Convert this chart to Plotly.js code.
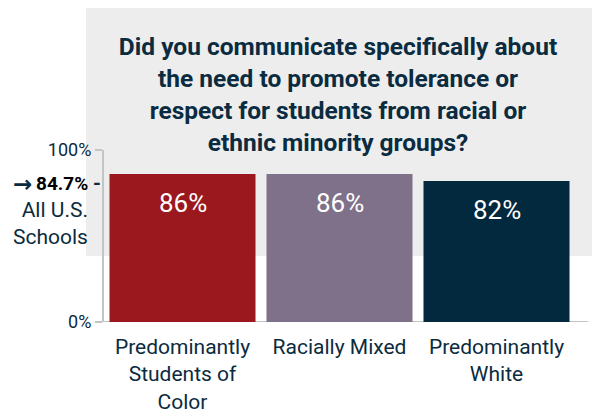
<!DOCTYPE html>
<html>
<head>
<meta charset="utf-8">
<script src="https://cdn.plot.ly/plotly-3.0.1.min.js"></script>
<style>html,body{margin:0;padding:0;background:#fff;}#chart{width:592px;height:417px;}</style>
</head>
<body>
<div id="chart"></div>
<script>
const categories = ["Predominantly<br>Students of<br>Color", "Racially Mixed", "Predominantly<br>White"];
const values = [86, 86, 82];
const valueLabels = ["86%", "86%", "82%"];
const barColors = ["#9b181e", "#7f7189", "#02293d"];
const benchmarkValue = 84.7;
const benchmarkLabel = "84.7%";
const benchmarkSub = "All U.S.<br>Schools";
const yTickVals = [0, 100];
const yTickText = ["0%", "100%"];
const titleText = "<b>Did you communicate specifically about<br>the need to promote tolerance or<br>respect for students from racial or<br>ethnic minority groups?</b>";

const navy = "#0b2b40";
const font = "Roboto, 'Noto Sans', sans-serif";

const trace = {
  type: "bar",
  x: categories,
  y: values,
  marker: {color: barColors},
  hoverinfo: "none"
};

const annotations = categories.map((c, i) => ({
  x: c, y: values[i], xref: "x", yref: "y",
  text: valueLabels[i], showarrow: false,
  yanchor: "middle", yshift: -29,
  font: {family: font, size: 26, color: "#ffffff"}
}));
annotations.push({
  x: -0.148, xref: "paper", y: benchmarkValue, yref: "y",
  xanchor: "right", yanchor: "middle", yshift: -8,
  text: "<b>→</b>", showarrow: false,
  font: {family: "'DejaVu Sans', sans-serif", size: 23, color: navy}
});
annotations.push({
  x: -0.03, xref: "paper", y: benchmarkValue, yref: "y",
  xanchor: "right", yanchor: "middle", yshift: -7,
  text: "<b>" + benchmarkLabel + "</b>", showarrow: false,
  font: {family: font, size: 19, color: "#000000"}
});
annotations.push({
  x: -0.003, xref: "paper", y: benchmarkValue, yref: "y",
  xanchor: "right", yanchor: "middle", yshift: -7,
  text: "<b>-</b>", showarrow: false,
  font: {family: font, size: 20, color: navy}
});
annotations.push({
  x: -0.03, xref: "paper", y: benchmarkValue, yref: "y",
  xanchor: "right", yanchor: "top", yshift: -20,
  text: benchmarkSub, showarrow: false, align: "right",
  font: {family: font, size: 21, color: navy}
});

const layout = {
  width: 592, height: 417,
  margin: {l: 104, r: 17, t: 150, b: 95, pad: 0},
  paper_bgcolor: "#ffffff",
  plot_bgcolor: "rgba(0,0,0,0)",
  showlegend: false,
  bargap: 0.07,
  title: {
    text: titleText, xref: "container", x: 0.571, xanchor: "center",
    yref: "container", y: 0.867, yanchor: "middle",
    font: {family: font, size: 24.5, color: navy}
  },
  xaxis: {
    showline: false, showgrid: false, zeroline: false, ticks: "",
    ticklabelstandoff: 10,
    tickfont: {family: font, size: 21, color: navy},
    fixedrange: true
  },
  yaxis: {
    range: [0, 100], showgrid: false, zeroline: false,
    showline: true, linecolor: "#c4c4c4", linewidth: 2,
    ticks: "outside", ticklen: 7, tickwidth: 2, tickcolor: "#c4c4c4",
    tickvals: yTickVals, ticktext: yTickText,
    tickfont: {family: font, size: 18, color: navy},
    fixedrange: true
  },
  shapes: [
    {type: "rect", xref: "paper", yref: "paper", x0: -0.038, x1: 1.04, y0: 0.384, y1: 1.826,
     fillcolor: "#ededed", line: {width: 0}, layer: "below"},
    {type: "line", xref: "paper", yref: "y", x0: -0.004, x1: 1.028, y0: 0, y1: 0,
     line: {color: "#c4c4c4", width: 2}, layer: "below"}
  ],
  annotations: annotations
};

Plotly.newPlot("chart", [trace], layout, {displayModeBar: false, staticPlot: true});
</script>
</body>
</html>
